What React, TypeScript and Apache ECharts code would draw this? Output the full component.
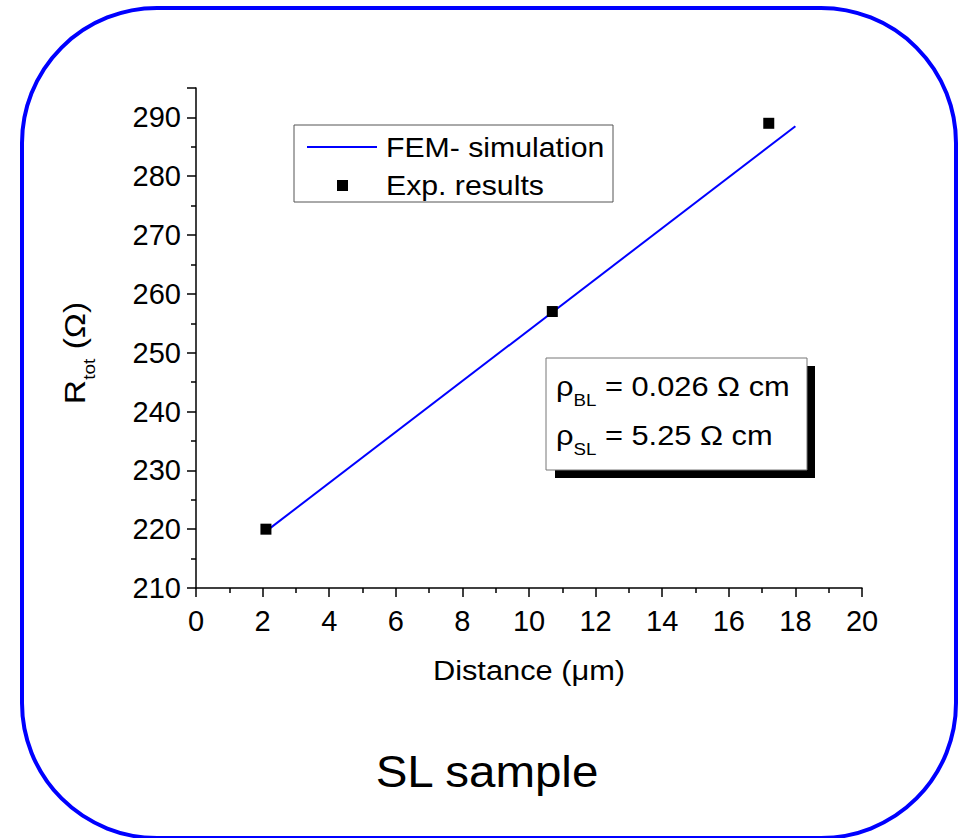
import React, { useEffect, useRef } from "react";
import * as echarts from "echarts";

const simX = [2.07, 18.0];
const simY = [219.5, 288.5];
const expX = [2.1, 10.7, 17.2];
const expY = [220, 257, 289];
const legendNames = ["FEM- simulation", "Exp. results"];
const FONT = "'Liberation Sans', Arial, sans-serif";

export default function App() {
  const ref = useRef<HTMLDivElement>(null);
  useEffect(() => {
    if (!ref.current) return;
    const chart = echarts.init(ref.current, null, { renderer: "svg" });
    const simData = simX.map((x, i) => [x, simY[i]]);
    const expData = expX.map((x, i) => [x, expY[i]]);
    const axisCommon = {
      axisLine: { show: true, lineStyle: { color: "#000", width: 1.5 } },
      axisTick: { show: true, inside: false, length: 9, lineStyle: { color: "#000", width: 1.5 } },
      minorTick: { show: true, splitNumber: 2, length: 5, lineStyle: { color: "#000", width: 1.5 } },
      splitLine: { show: false },
      minorSplitLine: { show: false },
    };
    chart.setOption({
      animation: false,
      backgroundColor: "#fff",
      grid: { left: 196, right: 99, top: 88, bottom: 250, containLabel: false },
      xAxis: {
        type: "value",
        min: 0,
        max: 20,
        interval: 2,
        ...axisCommon,
        axisLabel: { fontSize: 29, color: "#000", fontFamily: FONT, margin: 18 },
      },
      yAxis: {
        type: "value",
        min: 210,
        max: 295,
        interval: 10,
        ...axisCommon,
        axisLabel: { fontSize: 29, color: "#000", fontFamily: FONT, margin: 15, showMaxLabel: false },
      },
      series: [
        {
          name: legendNames[0],
          type: "line",
          data: simData,
          symbol: "none",
          lineStyle: { color: "#0000ff", width: 2 },
          z: 2,
        },
        {
          name: legendNames[1],
          type: "scatter",
          data: expData,
          symbol: "rect",
          symbolSize: 11,
          itemStyle: { color: "#000", opacity: 1 },
          z: 3,
        },
      ],
      graphic: [
        {
          type: "rect",
          shape: { x: 22, y: 8, width: 934, height: 830, r: 135 },
          style: { fill: "none", stroke: "#0000ff", lineWidth: 4 },
          silent: true,
        },
        // legend
        {
          type: "rect",
          shape: { x: 294, y: 125, width: 319, height: 77 },
          style: { fill: "#fff", stroke: "#555", lineWidth: 1 },
          z: 10,
        },
        {
          type: "line",
          shape: { x1: 307, y1: 147, x2: 377, y2: 147 },
          style: { stroke: "#0000ff", lineWidth: 2 },
          z: 11,
        },
        {
          type: "rect",
          shape: { x: 337, y: 180, width: 11, height: 11 },
          style: { fill: "#000" },
          z: 11,
        },
        {
          type: "text",
          x: 386,
          y: 147,
          scaleX: 1.08,
          style: { text: legendNames[0], fontSize: 28, fontFamily: FONT, fill: "#000", textVerticalAlign: "middle" },
          z: 11,
        },
        {
          type: "text",
          x: 386,
          y: 185,
          scaleX: 1.08,
          style: { text: legendNames[1], fontSize: 28, fontFamily: FONT, fill: "#000", textVerticalAlign: "middle" },
          z: 11,
        },
        // annotation box
        {
          type: "rect",
          shape: { x: 555, y: 366, width: 260, height: 112 },
          style: { fill: "#000" },
          z: 10,
        },
        {
          type: "rect",
          shape: { x: 546, y: 358, width: 261, height: 112 },
          style: { fill: "#fff", stroke: "#777", lineWidth: 1 },
          z: 11,
        },
        {
          type: "text",
          x: 556,
          y: 386,
          scaleX: 1.1,
          style: {
            text: "{a|ρ}{s|BL}{a| = 0.026 Ω cm}",
            fontFamily: FONT,
            fill: "#000",
            textVerticalAlign: "middle",
            rich: {
              a: { fontSize: 28, fontFamily: FONT, fill: "#000", verticalAlign: "bottom" },
              s: { fontSize: 17, fontFamily: FONT, fill: "#000", verticalAlign: "bottom", padding: [0, 0, -9, 0] },
            },
          },
          z: 12,
        },
        {
          type: "text",
          x: 556,
          y: 435,
          scaleX: 1.1,
          style: {
            text: "{a|ρ}{s|SL}{a| = 5.25 Ω cm}",
            fontFamily: FONT,
            fill: "#000",
            textVerticalAlign: "middle",
            rich: {
              a: { fontSize: 28, fontFamily: FONT, fill: "#000", verticalAlign: "bottom" },
              s: { fontSize: 17, fontFamily: FONT, fill: "#000", verticalAlign: "bottom", padding: [0, 0, -9, 0] },
            },
          },
          z: 12,
        },
        // axis names
        {
          type: "text",
          x: 529,
          y: 670,
          scaleX: 1.1,
          style: { text: "Distance (μm)", fontSize: 28, fontFamily: FONT, fill: "#000", textAlign: "center", textVerticalAlign: "middle" },
        },
        {
          type: "text",
          x: 75,
          y: 353,
          rotation: Math.PI / 2,
          scaleX: 1.12,
          style: {
            text: "{a|R}{s|tot}{a| (Ω)}",
            fontFamily: FONT,
            fill: "#000",
            textAlign: "center",
            textVerticalAlign: "middle",
            rich: {
              a: { fontSize: 30, fontFamily: FONT, fill: "#000", verticalAlign: "bottom" },
              s: { fontSize: 17, fontFamily: FONT, fill: "#000", verticalAlign: "bottom", padding: [0, 0, -8, 0] },
            },
          },
        },
        {
          type: "text",
          x: 487,
          y: 772,
          scaleX: 1.08,
          style: { text: "SL sample", fontSize: 44, fontFamily: FONT, fill: "#000", textAlign: "center", textVerticalAlign: "middle" },
        },
      ],
    });
    return () => chart.dispose();
  }, []);
  return <div ref={ref} style={{ position: "fixed", left: 0, top: 0, width: 961, height: 838 }} />;
}
